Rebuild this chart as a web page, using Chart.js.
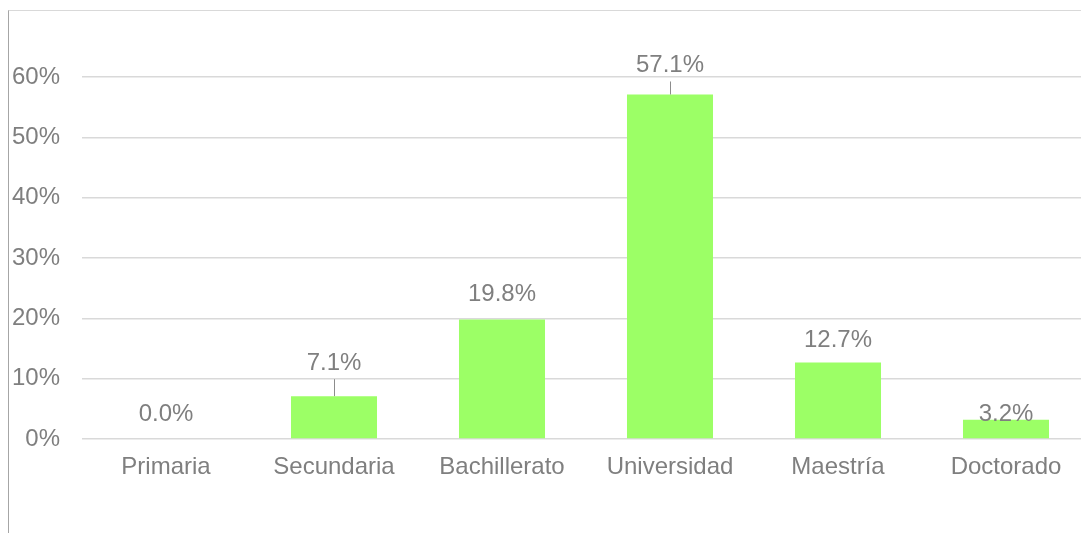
<!DOCTYPE html>
<html>
<head>
<meta charset="utf-8">
<script src="https://cdn.jsdelivr.net/npm/chart.js@4/dist/chart.umd.min.js"></script>
<style>
  html, body { margin: 0; padding: 0; background: #fff; overflow: hidden; width: 1081px; height: 533px; }
  #wrap { position: absolute; left: 0; top: 0; width: 1100px; height: 533px; }
  #frame { position: absolute; left: 8px; top: 10px; width: 1100px; height: 600px;
           border-left: 1px solid #a6a6a6; border-top: 1px solid #d9d9d9; pointer-events: none; }
</style>
</head>
<body>
<div id="wrap"><canvas id="c" width="1100" height="533"></canvas></div>
<div id="frame"></div>
<script>
const categories = ["Primaria", "Secundaria", "Bachillerato", "Universidad", "Maestría", "Doctorado"];
const values = [0.0, 0.071, 0.198, 0.571, 0.127, 0.032];
const valueLabels = ["0.0%", "7.1%", "19.8%", "57.1%", "12.7%", "3.2%"];
const yTicks = [0, 0.1, 0.2, 0.3, 0.4, 0.5, 0.6];

const TEXT = '#7f7f7f';
const FONT = 'Liberation Sans, Arial, sans-serif';

const labelPlugin = {
  id: 'valueLabels',
  afterDatasetsDraw(chart, args, opts) {
    const ctx = chart.ctx;
    const meta = chart.getDatasetMeta(0);
    ctx.save();
    ctx.font = '24px ' + FONT;
    ctx.fillStyle = TEXT;
    ctx.textAlign = 'center';
    ctx.textBaseline = 'middle';
    meta.data.forEach((bar, i) => {
      const off = opts.offsets[i];
      const y = bar.y + off;
      if (opts.leaders[i]) {
        ctx.strokeStyle = '#8c8c8c';
        ctx.lineWidth = 1;
        ctx.beginPath();
        ctx.moveTo(Math.round(bar.x) + 0.5, y + 16);
        ctx.lineTo(Math.round(bar.x) + 0.5, bar.y);
        ctx.stroke();
      }
      ctx.fillText(valueLabels[i], bar.x, y);
    });
    ctx.restore();
  }
};

new Chart(document.getElementById('c'), {
  type: 'bar',
  data: {
    labels: categories,
    datasets: [{
      data: values,
      backgroundColor: '#9cff66',
      borderWidth: 0,
      barPercentage: 0.512,
      categoryPercentage: 1.0
    }]
  },
  options: {
    responsive: false,
    animation: false,
    events: [],
    layout: { padding: { top: 77, right: 10, bottom: 0, left: 0 } },
    plugins: {
      legend: { display: false },
      tooltip: { enabled: false },
      valueLabels: {
        offsets: [-25, -33, -25, -29, -22, -5],
        leaders: [false, true, false, true, false, false]
      }
    },
    scales: {
      x: {
        grid: { display: false, drawTicks: false },
        border: { display: false },
        ticks: { color: TEXT, font: { family: FONT, size: 24 }, padding: 14, maxRotation: 0 },
        afterFit(scale) { scale.height = 94; }
      },
      y: {
        min: 0,
        max: 0.6,
        afterBuildTicks(scale) { scale.ticks = yTicks.map(v => ({ value: v })); },
        grid: { color: '#d9d9d9', lineWidth: 1.5, drawTicks: false },
        border: { display: false },
        ticks: {
          color: TEXT,
          font: { family: FONT, size: 24 },
          padding: 22,
          callback: v => Math.round(v * 100) + '%'
        },
        afterFit(scale) { scale.width = 82; }
      }
    }
  },
  plugins: [labelPlugin]
});
</script>
</body>
</html>
